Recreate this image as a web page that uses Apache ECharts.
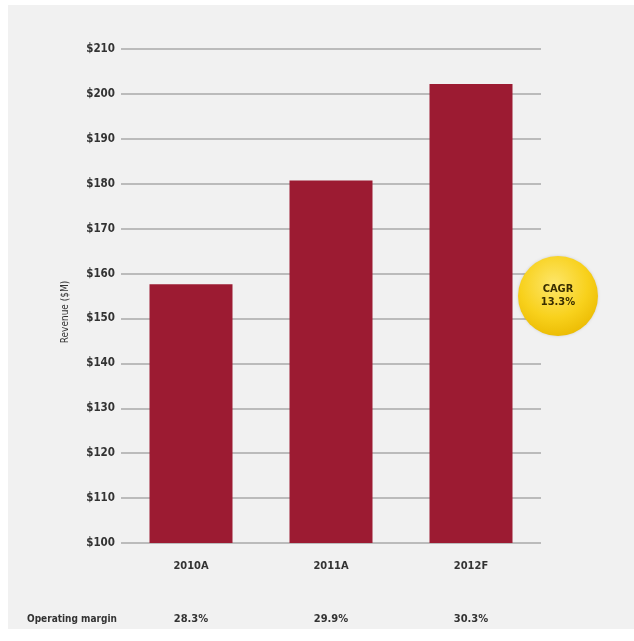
<!DOCTYPE html>
<html>
<head>
<meta charset="utf-8">
<script src="https://cdn.jsdelivr.net/npm/echarts@6/dist/echarts.min.js"></script>
<style>
html,body{margin:0;padding:0;background:#fff;}
#chart{position:absolute;left:8px;top:5px;width:626px;height:624px;}
</style>
</head>
<body>
<div id="chart"></div>
<script>
const categories = ['2010A', '2011A', '2012F'];
const revenue = [157.6, 180.7, 202.2];
const operatingMargin = ['28.3%', '29.9%', '30.3%'];
const marginLabel = 'Operating margin';
const cagrText = ['CAGR', '13.3%'];
const yAxisName = 'Revenue ($M)';

const FONT = '"Liberation Sans Narrow", "DejaVu Sans Condensed", "Liberation Sans", Arial, sans-serif';
const chart = echarts.init(document.getElementById('chart'));

const option = {
  backgroundColor: '#f1f1f1',
  animation: false,
  grid: { left: 113, right: 93, top: 44, bottom: 86, containLabel: false },
  xAxis: [{
    type: 'category',
    data: categories,
    axisLine: { show: false },
    axisTick: { show: false },
    axisLabel: { color: '#333', fontFamily: FONT, fontSize: 11, fontWeight: 'bold', margin: 18 }
  }, {
    type: 'category',
    data: operatingMargin,
    position: 'bottom',
    offset: 53,
    axisLine: { show: false },
    axisTick: { show: false },
    axisLabel: { color: '#333', fontFamily: FONT, fontSize: 11, fontWeight: 'bold', margin: 18 }
  }],
  yAxis: {
    type: 'value',
    min: 100, max: 210, interval: 10,
    axisLine: { show: false },
    axisTick: { show: false },
    axisLabel: { color: '#333', fontFamily: FONT, fontSize: 11.5, fontWeight: 'bold', margin: 6,
      formatter: v => '$' + v },
    splitLine: { lineStyle: { color: '#a8a8a8', width: 1.5 } }
  },
  series: [{
    type: 'bar',
    data: revenue,
    barWidth: 83,
    itemStyle: { color: '#9c1b32' },
    z: 3
  }],
  graphic: [
    { type: 'text', x: 19, y: 614,
      style: { text: marginLabel, fill: '#333', font: 'bold 10px ' + FONT, verticalAlign: 'middle' } },
    { type: 'text', x: 57, y: 307, rotation: Math.PI / 2,
      style: { text: yAxisName, fill: '#333', font: '10px ' + FONT, align: 'center', verticalAlign: 'middle' } },
    { type: 'circle', shape: { cx: 550, cy: 291, r: 40 }, z: 10,
      style: {
        fill: { type: 'radial', x: 0.45, y: 0.35, r: 0.7,
          colorStops: [{ offset: 0, color: '#fde66a' }, { offset: 0.6, color: '#f8d11c' }, { offset: 1, color: '#eab900' }] },
        shadowBlur: 3, shadowColor: 'rgba(0,0,0,0.15)'
      } },
    { type: 'text', x: 550, y: 291, z: 11,
      style: { text: cagrText.join('\n'), fill: '#3a2e00', font: 'bold 11px ' + FONT, align: 'center', verticalAlign: 'middle', lineHeight: 13 } }
  ]
};
chart.setOption(option);
</script>
</body>
</html>
